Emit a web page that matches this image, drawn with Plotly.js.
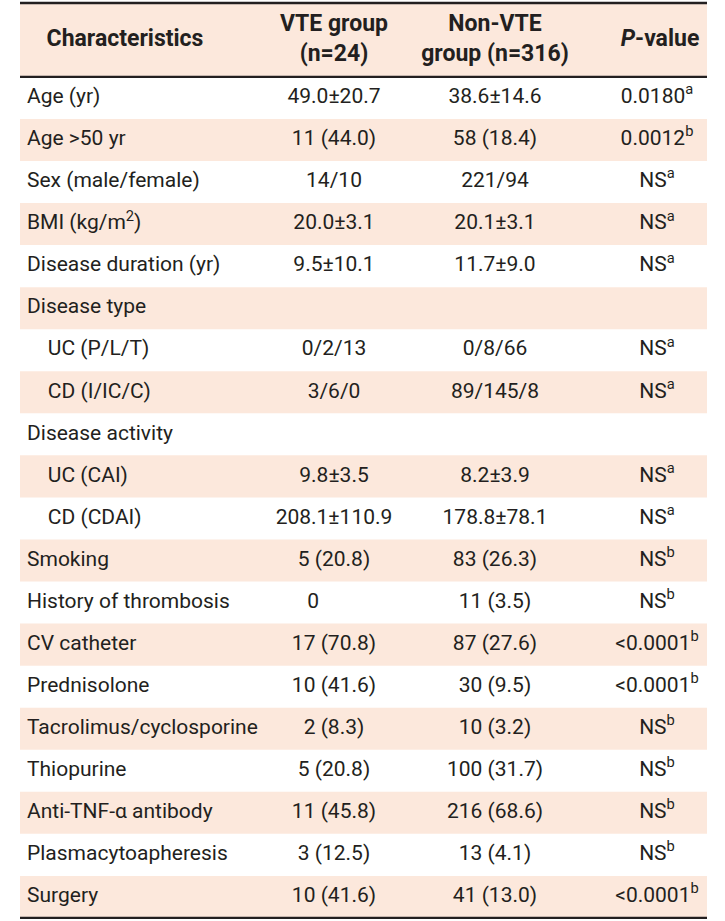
<!DOCTYPE html>
<html>
<head>
<meta charset="utf-8">
<script src="https://cdn.plot.ly/plotly-3.0.1.min.js"></script>
<style>html,body{margin:0;padding:0;background:#fff;}#chart{width:725px;height:921px;}</style>
</head>
<body>
<div id="chart"></div>
<script>
// ---- data ----
var headers = ["Characteristics", "VTE group<br>(n=24)", "Non-VTE<br>group (n=316)", "<i>P</i>-value"];
var labels = ["Age (yr)", "Age &gt;50 yr", "Sex (male/female)", "BMI (kg/m<sup>2</sup>)", "Disease duration (yr)",
  "Disease type", "UC (P/L/T)", "CD (I/IC/C)", "Disease activity", "UC (CAI)", "CD (CDAI)", "Smoking",
  "History of thrombosis", "CV catheter", "Prednisolone", "Tacrolimus/cyclosporine", "Thiopurine",
  "Anti-TNF-α antibody", "Plasmacytoapheresis", "Surgery"];
var levels = [0, 0, 0, 0, 0, 0, 1, 1, 0, 1, 1, 0, 0, 0, 0, 0, 0, 0, 0, 0];
var vteGroup = ["49.0±20.7", "11 (44.0)", "14/10", "20.0±3.1", "9.5±10.1", "", "0/2/13", "3/6/0", "",
  "9.8±3.5", "208.1±110.9", "5 (20.8)", "0\u00a0\u00a0\u00a0\u00a0\u00a0\u00a0\u00a0\u00a0", "17 (70.8)", "10 (41.6)", "2 (8.3)",
  "5 (20.8)", "11 (45.8)", "3 (12.5)", "10 (41.6)"];
var nonVteGroup = ["38.6±14.6", "58 (18.4)", "221/94", "20.1±3.1", "11.7±9.0", "", "0/8/66", "89/145/8", "",
  "8.2±3.9", "178.8±78.1", "83 (26.3)", "11 (3.5)", "87 (27.6)", "30 (9.5)", "10 (3.2)", "100 (31.7)",
  "216 (68.6)", "13 (4.1)", "41 (13.0)"];
var pValues = ["0.0180<sup>a</sup>", "0.0012<sup>b</sup>", "NS<sup>a</sup>", "NS<sup>a</sup>", "NS<sup>a</sup>", "",
  "NS<sup>a</sup>", "NS<sup>a</sup>", "", "NS<sup>a</sup>", "NS<sup>a</sup>", "NS<sup>b</sup>", "NS<sup>b</sup>",
  "&lt;0.0001<sup>b</sup>", "&lt;0.0001<sup>b</sup>", "NS<sup>b</sup>", "NS<sup>b</sup>", "NS<sup>b</sup>",
  "NS<sup>b</sup>", "&lt;0.0001<sup>b</sup>"];

// ---- style ----
var FONT = "Roboto, 'Liberation Sans', sans-serif";
var TXT = "#231f20";
var SHADE = "#fce8dc";
var colX = [27, 334, 495, 657];
var headerX = [125, 334, 495, 660];
var xL = 20, xR = 707;
var headerTop = -2.257;
var n = labels.length;
var rows = labels.map(function (_, i) { return i; });

var shapes = [];
shapes.push({type: "rect", xref: "x", yref: "y", x0: xL, x1: xR, y0: headerTop, y1: -0.5,
  fillcolor: SHADE, line: {width: 0}, layer: "below"});
rows.forEach(function (i) {
  if (i % 2 === 1) {
    shapes.push({type: "rect", xref: "x", yref: "y", x0: xL, x1: xR, y0: i - 0.5, y1: i + 0.5,
      fillcolor: SHADE, line: {width: 0}, layer: "below"});
  }
});
[[headerTop, 2.5], [-0.5, 2.2], [n - 0.5, 2.2]].forEach(function (l) {
  shapes.push({type: "line", xref: "x", yref: "y", x0: xL, x1: xR, y0: l[0], y1: l[0],
    line: {color: TXT, width: l[1]}});
});

var labelText = labels.map(function (t, i) { return (levels[i] ? "\u00a0\u00a0\u00a0\u00a0" : "") + t; });
var headerY = (headerTop - 0.5) / 2;
var dataFont = {family: FONT, size: 21, color: TXT};

var traces = [
  {type: "scatter", mode: "text", x: rows.map(function () { return colX[0]; }), y: rows, text: labelText,
    textposition: "middle right", textfont: dataFont, hoverinfo: "skip"},
  {type: "scatter", mode: "text", x: rows.map(function () { return colX[1]; }), y: rows, text: vteGroup,
    textposition: "middle center", textfont: dataFont, hoverinfo: "skip"},
  {type: "scatter", mode: "text", x: rows.map(function () { return colX[2]; }), y: rows, text: nonVteGroup,
    textposition: "middle center", textfont: dataFont, hoverinfo: "skip"},
  {type: "scatter", mode: "text", x: rows.map(function () { return colX[3]; }), y: rows, text: pValues,
    textposition: "middle center", textfont: dataFont, hoverinfo: "skip"},
  {type: "scatter", mode: "text", x: headerX, y: headers.map(function () { return headerY; }),
    text: headers.map(function (h) { return "<b>" + h + "</b>"; }),
    textposition: "middle center",
    textfont: {family: FONT, size: 23, color: TXT}, hoverinfo: "skip"}
];

var layout = {
  width: 725, height: 921,
  margin: {l: 0, r: 0, t: 0, b: 0},
  paper_bgcolor: "#ffffff", plot_bgcolor: "#ffffff",
  showlegend: false, hovermode: false,
  xaxis: {range: [0, 725], visible: false, fixedrange: true},
  yaxis: {range: [19.572, -2.328], visible: false, fixedrange: true},
  shapes: shapes
};

Plotly.newPlot("chart", traces, layout, {displayModeBar: false, staticPlot: true});
</script>
</body>
</html>
